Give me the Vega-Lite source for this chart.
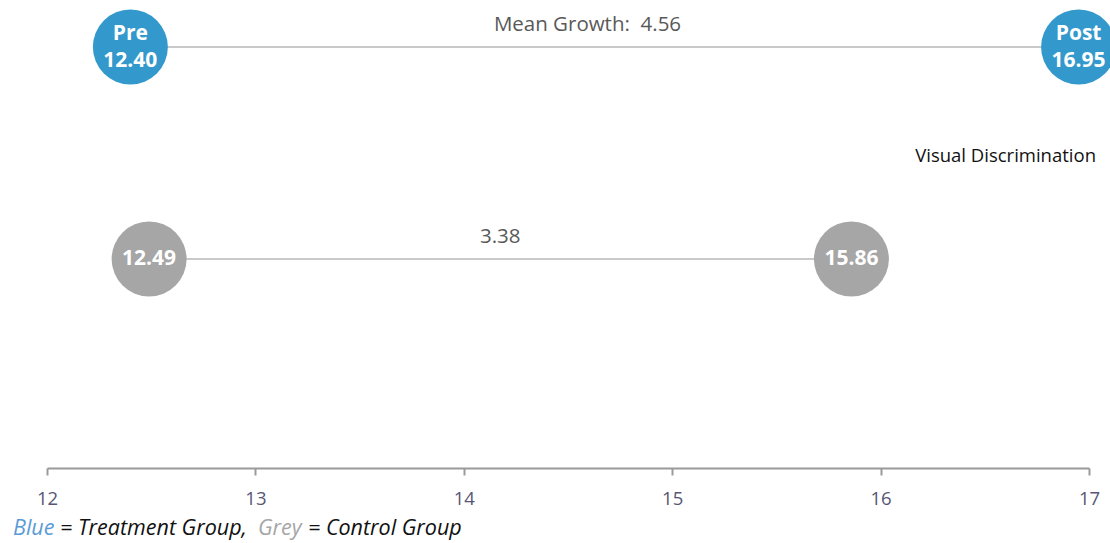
{
  "$schema": "https://vega.github.io/schema/vega-lite/v6.json",
  "width": 1042,
  "height": 468,
  "autosize": "none",
  "padding": {"left": 47, "top": 0, "right": 21, "bottom": 75},
  "background": "white",
  "config": {"view": {"stroke": null}, "font": "Open Sans"},
  "datasets": {
    "scores": [
      {"group": "Treatment", "pre": 12.40, "post": 16.95, "growth": 4.56},
      {"group": "Control", "pre": 12.49, "post": 15.86, "growth": 3.38}
    ],
    "key": [
      {"part": "Blue"},
      {"part": "= Treatment Group,"},
      {"part": "Grey"},
      {"part": "= Control Group"}
    ]
  },
  "data": {"name": "scores"},
  "encoding": {
    "y": {
      "field": "group",
      "type": "nominal",
      "scale": {"type": "point", "domain": ["Treatment", "Visual Discrimination", "Control"], "range": [47, 259], "padding": 0},
      "axis": null
    }
  },
  "layer": [
    {
      "mark": {"type": "rule", "color": "#c9c9c9", "strokeWidth": 2},
      "encoding": {
        "x": {
          "field": "pre",
          "type": "quantitative",
          "scale": {"domain": [12, 17], "nice": false, "zero": false},
          "axis": {
            "title": null,
            "values": [12, 13, 14, 15, 16, 17],
            "format": "d",
            "grid": false,
            "domainColor": "#9a9a9a",
            "domainWidth": 2,
            "tickColor": "#9a9a9a",
            "tickWidth": 2,
            "tickSize": 7,
            "labelFontSize": 18.5,
            "labelColor": "#575775",
            "labelPadding": 14,
            "labelFlush": false
          }
        },
        "x2": {"field": "post"}
      }
    },
    {
      "transform": [{"fold": ["pre", "post"], "as": ["stage", "score"]}],
      "mark": {"type": "circle", "size": 5625, "opacity": 1},
      "encoding": {
        "x": {"field": "score", "type": "quantitative"},
        "color": {
          "field": "group",
          "type": "nominal",
          "scale": {"domain": ["Treatment", "Control"], "range": ["#3399cc", "#a6a6a6"]},
          "legend": null
        }
      }
    },
    {
      "transform": [
        {"filter": "datum.group === 'Treatment'"},
        {"fold": ["pre", "post"], "as": ["stage", "score"]},
        {"calculate": "(datum.stage === 'pre' ? 'Pre' : 'Post') + '\\n' + format(datum.score, '.2f')", "as": "label"}
      ],
      "mark": {"type": "text", "color": "white", "fontWeight": "bold", "fontSize": 21, "lineBreak": "\n", "lineHeight": 27, "align": "center", "baseline": "middle", "dy": -13.5},
      "encoding": {
        "x": {"field": "score", "type": "quantitative"},
        "text": {"field": "label"}
      }
    },
    {
      "transform": [
        {"filter": "datum.group === 'Control'"},
        {"fold": ["pre", "post"], "as": ["stage", "score"]},
        {"calculate": "format(datum.score, '.2f')", "as": "label"}
      ],
      "mark": {"type": "text", "color": "white", "fontWeight": "bold", "fontSize": 21, "align": "center", "baseline": "middle"},
      "encoding": {
        "x": {"field": "score", "type": "quantitative"},
        "text": {"field": "label"}
      }
    },
    {
      "transform": [
        {"filter": "datum.group === 'Treatment'"},
        {"calculate": "(datum.pre + datum.post) / 2", "as": "mid"},
        {"calculate": "'Mean Growth:\u00a0 ' + format(datum.growth, '.2f')", "as": "label"}
      ],
      "mark": {"type": "text", "color": "#595959", "fontSize": 20.5, "align": "center", "baseline": "middle", "dx": -17, "dy": -22},
      "encoding": {
        "x": {"field": "mid", "type": "quantitative"},
        "text": {"field": "label"}
      }
    },
    {
      "transform": [
        {"filter": "datum.group === 'Control'"},
        {"calculate": "(datum.pre + datum.post) / 2", "as": "mid"},
        {"calculate": "format(datum.growth, '.2f')", "as": "label"}
      ],
      "mark": {"type": "text", "color": "#595959", "fontSize": 20.5, "align": "center", "baseline": "middle", "dy": -22},
      "encoding": {
        "x": {"field": "mid", "type": "quantitative"},
        "text": {"field": "label"}
      }
    },
    {
      "data": {"values": [{"label": "Visual Discrimination"}]},
      "mark": {"type": "text", "color": "#111111", "fontSize": 18.5, "align": "right", "baseline": "middle", "dx": 7, "dy": 3},
      "encoding": {
        "x": {"datum": 17, "type": "quantitative"},
        "y": {"datum": "Visual Discrimination"},
        "text": {"field": "label"}
      }
    },
    {
      "data": {"name": "key"},
      "transform": [{"filter": "datum.part === 'Blue'"}],
      "mark": {"type": "text", "color": "#5b9bd5", "fontSize": 21.5, "fontStyle": "italic", "align": "left", "baseline": "middle", "dx": -34, "dy": 270},
      "encoding": {
        "x": {"datum": 12, "type": "quantitative"},
        "y": {"datum": "Control"},
        "text": {"field": "part"}
      }
    },
    {
      "data": {"name": "key"},
      "transform": [{"filter": "datum.part === '= Treatment Group,'"}],
      "mark": {"type": "text", "color": "#111111", "fontSize": 21.5, "fontStyle": "italic", "align": "left", "baseline": "middle", "dx": 13, "dy": 270},
      "encoding": {
        "x": {"datum": 12, "type": "quantitative"},
        "y": {"datum": "Control"},
        "text": {"field": "part"}
      }
    },
    {
      "data": {"name": "key"},
      "transform": [{"filter": "datum.part === 'Grey'"}],
      "mark": {"type": "text", "color": "#a6a6a6", "fontSize": 21.5, "fontStyle": "italic", "align": "left", "baseline": "middle", "dx": 211, "dy": 270},
      "encoding": {
        "x": {"datum": 12, "type": "quantitative"},
        "y": {"datum": "Control"},
        "text": {"field": "part"}
      }
    },
    {
      "data": {"name": "key"},
      "transform": [{"filter": "datum.part === '= Control Group'"}],
      "mark": {"type": "text", "color": "#111111", "fontSize": 21.5, "fontStyle": "italic", "align": "left", "baseline": "middle", "dx": 261, "dy": 270},
      "encoding": {
        "x": {"datum": 12, "type": "quantitative"},
        "y": {"datum": "Control"},
        "text": {"field": "part"}
      }
    }
  ]
}
